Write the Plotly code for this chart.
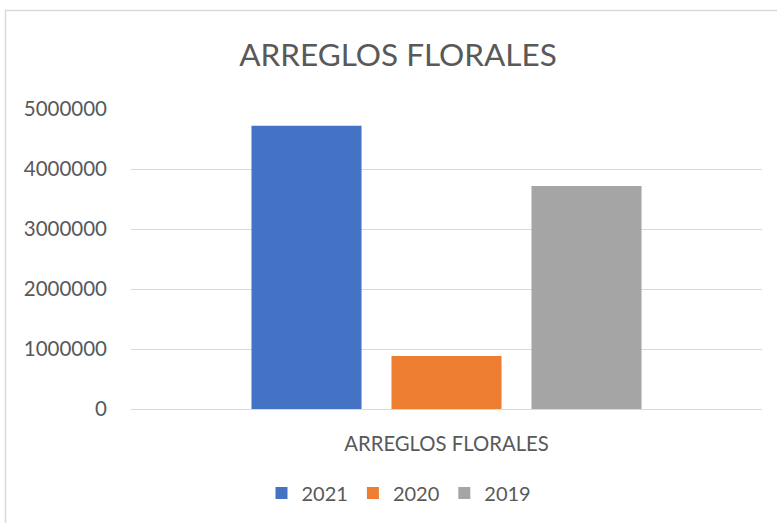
import plotly.graph_objects as go

categories = ["ARREGLOS FLORALES"]
series_names = ["2021", "2020", "2019"]
values_2021 = [4720000]
values_2020 = [885000]
values_2019 = [3718000]
colors = ["#4472C4", "#ED7D31", "#A5A5A5"]
y_ticks = [0, 1000000, 2000000, 3000000, 4000000, 5000000]
y_tick_labels = ["0", "1000000", "2000000", "3000000", "4000000", "5000000"]

font_family = "Lato, Carlito, Calibri, sans-serif"
text_color = "#595959"

fig = go.Figure()
for name, vals, col in zip(series_names, [values_2021, values_2020, values_2019], colors):
    fig.add_trace(go.Bar(x=categories, y=vals, name=name, marker=dict(color=col, line=dict(width=0))))

W, H = 777, 523
ml, mr, mt, mb = 131, 15, 109, 114
pw = W - ml - mr
ph = H - mt - mb

fig.update_layout(
    width=W, height=H,
    margin=dict(l=ml, r=mr, t=mt, b=mb, pad=0),
    paper_bgcolor="white", plot_bgcolor="white",
    barmode="group", bargap=1 - 420 / pw, bargroupgap=0.214,
    font=dict(family=font_family, color=text_color, size=20),
    title=dict(text="ARREGLOS FLORALES", x=398 / W, xanchor="center", xref="container",
               y=1 - 55 / H, yanchor="middle", yref="container",
               font=dict(size=31.5, color=text_color, family=font_family)),
    showlegend=True,
    legend=dict(orientation="h", xref="container", yref="container",
                x=399 / W, xanchor="center", y=1 - 493 / H, yanchor="middle",
                font=dict(size=20, color=text_color), itemwidth=30, traceorder="normal"),
    xaxis=dict(showgrid=False, showline=True, linecolor="#D9D9D9", linewidth=1,
               ticks="", tickfont=dict(size=20.3, color=text_color), ticklabelstandoff=17,
               fixedrange=True),
    yaxis=dict(range=[0, 5000000], tickvals=y_ticks, ticktext=y_tick_labels,
               showgrid=True, gridcolor="#D9D9D9", gridwidth=1, zeroline=False,
               showline=False, ticks="", ticklabelstandoff=23,
               tickfont=dict(size=20.5, color=text_color), fixedrange=True),
)

# chart-area border (Excel style)
fig.add_shape(type="rect", xref="paper", yref="paper",
              x0=(5.5 - ml) / pw, x1=(W + 10 - ml) / pw,
              y0=-(H + 10 - ph - mt) / ph, y1=(ph + mt - 10.5) / ph,
              line=dict(color="#D9D9D9", width=1.5), fillcolor="rgba(0,0,0,0)", layer="below")

fig.write_html("out.html", config={"displayModeBar": False},
               post_script="document.body.style.margin='0';document.body.style.padding='0';")
